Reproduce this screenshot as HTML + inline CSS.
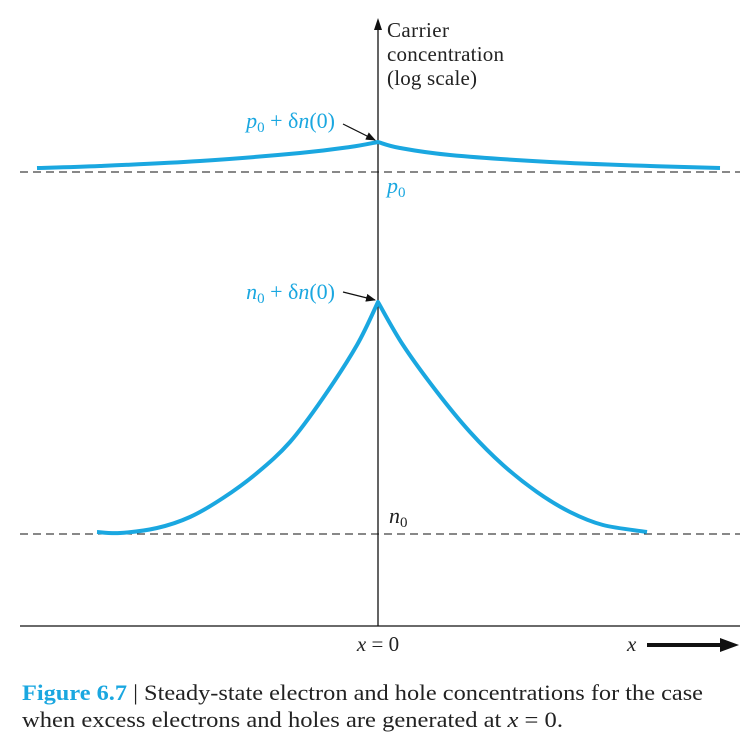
<!DOCTYPE html>
<html><head><meta charset="utf-8"><style>
html,body{margin:0;padding:0;background:#fff;}
svg{display:block;font-family:"Liberation Serif",serif;}
</style></head><body>
<svg width="747" height="735" viewBox="0 0 747 735">
<defs>
<marker id="ah" markerWidth="10" markerHeight="8" refX="9" refY="4" orient="auto" markerUnits="userSpaceOnUse"><path d="M0,0 L10,4 L0,8 Z" fill="#111"/></marker>
</defs>
<line x1="378" y1="626" x2="378" y2="28" stroke="#111" stroke-width="1.3"/>
<path d="M378,18 L374,30 L382,30 Z" fill="#111"/>
<line x1="20" y1="626" x2="740" y2="626" stroke="#111" stroke-width="1.3"/>
<line x1="20" y1="172" x2="740" y2="172" stroke="#111" stroke-width="1" stroke-dasharray="8,5"/>
<line x1="20" y1="534" x2="740" y2="534" stroke="#111" stroke-width="1" stroke-dasharray="8,5"/>
<g id="curves"></g>
<text font-size="21" fill="#222"><tspan x="387" y="37" textLength="62">Carrier</tspan><tspan x="387" y="61" textLength="117">concentration</tspan><tspan x="387" y="85" textLength="90">(log scale)</tspan></text>
<text x="335" y="128" text-anchor="end" font-size="22" fill="#1aa7e0"><tspan font-style="italic">p</tspan><tspan font-size="15" dy="4">0</tspan><tspan dy="-4"> + δ</tspan><tspan font-style="italic">n</tspan>(0)</text>
<line x1="343" y1="124" x2="375" y2="140" stroke="#111" stroke-width="1.2" marker-end="url(#ah)"/>
<text x="387" y="193" font-size="22" fill="#1aa7e0"><tspan font-style="italic">p</tspan><tspan font-size="15" dy="4">0</tspan></text>
<text x="335" y="299" text-anchor="end" font-size="22" fill="#1aa7e0"><tspan font-style="italic">n</tspan><tspan font-size="15" dy="4">0</tspan><tspan dy="-4"> + δ</tspan><tspan font-style="italic">n</tspan>(0)</text>
<line x1="343" y1="292" x2="375" y2="300" stroke="#111" stroke-width="1.2" marker-end="url(#ah)"/>
<text x="389" y="523" font-size="22" fill="#222"><tspan font-style="italic">n</tspan><tspan font-size="15" dy="4">0</tspan></text>
<text x="378" y="651" text-anchor="middle" font-size="21" fill="#222"><tspan font-style="italic">x</tspan> = 0</text>
<text x="627" y="651" font-size="21" font-style="italic" fill="#222">x</text>
<line x1="647" y1="645" x2="724" y2="645" stroke="#111" stroke-width="4"/>
<path d="M739,645 L720,638 L720,652 Z" fill="#111"/>
<text font-size="22" fill="#222"><tspan x="22" y="700" textLength="681" lengthAdjust="spacingAndGlyphs"><tspan font-weight="bold" fill="#1aa7e0">Figure 6.7</tspan> | Steady-state electron and hole concentrations for the case</tspan><tspan x="22" y="727" textLength="541" lengthAdjust="spacingAndGlyphs">when excess electrons and holes are generated at <tspan font-style="italic">x</tspan> = 0.</tspan></text>
</svg>
<script>
// x positions relative to x=0 (arbitrary units), y values: log concentration (arbitrary units)
const holeX = [-341, -278, -178, -78, -28, 0, 22, 72, 172, 272, 342];
const holeY = [45.8, 46.0, 46.5, 47.3, 47.9, 48.4, 47.8, 47.1, 46.4, 46.0, 45.8];
const elecX = [-281, -258, -221, -188, -155, -121, -88, -55, -21, 0, 25, 59, 92, 125, 159, 192, 225, 269];
const elecY = [9.4, 9.3, 9.8, 10.9, 12.8, 15.3, 18.4, 22.8, 28.1, 32.4, 28.1, 23.4, 19.4, 16.1, 13.4, 11.4, 10.1, 9.4];
function xs(v){return 378 + v;}
function ys(v){return 626 - v*10;}
function seg(p){
  let d = "";
  for(let i=0;i<p.length-1;i++){
    const p0=p[Math.max(0,i-1)],p1=p[i],p2=p[i+1],p3=p[Math.min(p.length-1,i+2)];
    const c1=[p1[0]+(p2[0]-p0[0])/6,p1[1]+(p2[1]-p0[1])/6];
    const c2=[p2[0]-(p3[0]-p1[0])/6,p2[1]-(p3[1]-p1[1])/6];
    d+=` C${c1[0]},${c1[1]} ${c2[0]},${c2[1]} ${p2[0]},${p2[1]}`;
  }
  return d;
}
function pathFrom(X,Y){
  const pts = X.map((x,i)=>[xs(x),ys(Y[i])]);
  const k = X.indexOf(0);
  const left=pts.slice(0,k+1), right=pts.slice(k);
  return `M${left[0][0]},${left[0][1]}`+seg(left)+seg(right);
}
const g=document.getElementById('curves');
const NS="http://www.w3.org/2000/svg";
const hp=document.createElementNS(NS,'path');
hp.setAttribute('d',pathFrom(holeX,holeY));
hp.setAttribute('fill','none');hp.setAttribute('stroke','#1aa7e0');hp.setAttribute('stroke-width','4');hp.setAttribute('stroke-linejoin','round');


g.appendChild(hp);
const ep=document.createElementNS(NS,'path');
ep.setAttribute('d',pathFrom(elecX,elecY));
ep.setAttribute('fill','none');ep.setAttribute('stroke','#1aa7e0');ep.setAttribute('stroke-width','4');ep.setAttribute('stroke-linejoin','round');


g.appendChild(ep);
</script>
</body></html>
